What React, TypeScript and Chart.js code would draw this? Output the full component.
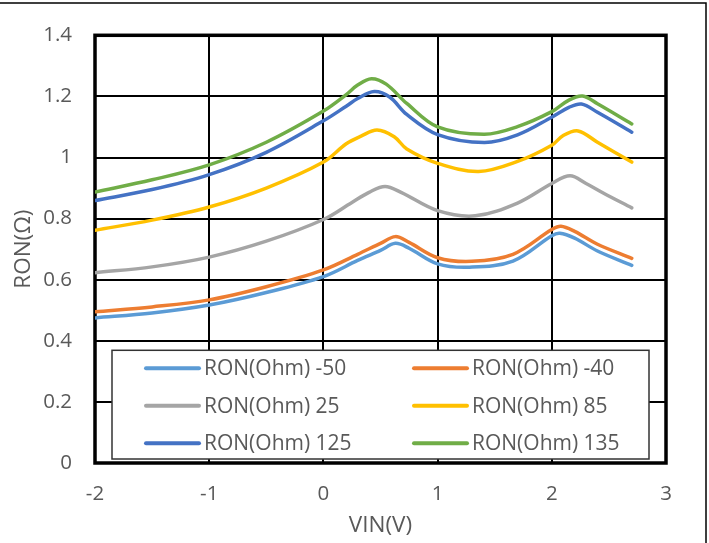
import React, { useEffect, useRef } from "react";
import { Chart, registerables } from "chart.js";

Chart.register(...registerables);

// ---- data ----
const X_TICKS = [-2, -1, 0, 1, 2, 3];
const Y_TICKS = [0, 0.2, 0.4, 0.6, 0.8, 1, 1.2, 1.4];

const SERIES_NAMES = [
  "RON(Ohm) -50",
  "RON(Ohm) -40",
  "RON(Ohm) 25",
  "RON(Ohm) 85",
  "RON(Ohm) 125",
  "RON(Ohm) 135",
];
const SERIES_COLORS = ["#5B9BD5", "#ED7D31", "#A5A5A5", "#FFC000", "#4472C4", "#70AD47"];

const VIN_M50 = [-2, -1.5, -1, -0.5, 0, 0.3, 0.5, 0.63, 0.75, 1, 1.28, 1.66, 2, 2.07, 2.2, 2.4, 2.7];
const RON_M50 = [0.475, 0.491, 0.517, 0.558, 0.61, 0.663, 0.696, 0.719, 0.703, 0.652, 0.641, 0.661, 0.744, 0.752, 0.736, 0.694, 0.647];

const VIN_M40 = [-2, -1.5, -1, -0.5, 0, 0.3, 0.5, 0.63, 0.75, 1, 1.3, 1.66, 2, 2.08, 2.2, 2.4, 2.7];
const RON_M40 = [0.495, 0.511, 0.534, 0.577, 0.632, 0.683, 0.719, 0.741, 0.722, 0.672, 0.66, 0.683, 0.764, 0.775, 0.758, 0.716, 0.67];

const VIN_25 = [-2, -1.5, -1, -0.5, 0, 0.25, 0.4, 0.54, 0.68, 1, 1.33, 1.7, 2, 2.16, 2.3, 2.45, 2.7];
const RON_25 = [0.623, 0.642, 0.674, 0.726, 0.797, 0.853, 0.886, 0.905, 0.886, 0.826, 0.809, 0.851, 0.915, 0.94, 0.915, 0.884, 0.835];

const VIN_85 = [-2, -1.5, -1, -0.5, 0, 0.2, 0.33, 0.47, 0.62, 0.73, 1, 1.36, 1.7, 2, 2.1, 2.23, 2.4, 2.7];
const RON_85 = [0.762, 0.795, 0.838, 0.9, 0.985, 1.045, 1.07, 1.09, 1.068, 1.028, 0.981, 0.954, 0.987, 1.04, 1.072, 1.087, 1.05, 0.985];

const VIN_125 = [-2, -1.5, -1, -0.5, 0, 0.2, 0.3, 0.445, 0.58, 0.73, 1, 1.41, 1.7, 2, 2.15, 2.26, 2.4, 2.7];
const RON_125 = [0.859, 0.895, 0.944, 1.017, 1.12, 1.168, 1.193, 1.216, 1.198, 1.141, 1.075, 1.049, 1.074, 1.132, 1.164, 1.175, 1.148, 1.083];

const VIN_135 = [-2, -1.5, -1, -0.5, 0, 0.2, 0.3, 0.42, 0.55, 0.73, 1, 1.41, 1.7, 2, 2.15, 2.27, 2.4, 2.7];
const RON_135 = [0.887, 0.927, 0.976, 1.05, 1.152, 1.206, 1.237, 1.258, 1.24, 1.177, 1.1, 1.076, 1.101, 1.15, 1.188, 1.201, 1.176, 1.11];

const SERIES_X = [VIN_M50, VIN_M40, VIN_25, VIN_85, VIN_125, VIN_135];
const SERIES_Y = [RON_M50, RON_M40, RON_25, RON_85, RON_125, RON_135];

const FONT_FAMILY = "'Open Sans', 'DejaVu Sans', sans-serif";
const TEXT_COLOR = "#595959";

const framePlugin = {
  id: "framePlugin",
  beforeDatasetsDraw(chart: any) {
    const { ctx, chartArea: a } = chart;
    ctx.save();
    ctx.strokeStyle = "#000";
    ctx.lineWidth = 3.5;
    ctx.strokeRect(a.left, a.top, a.right - a.left, a.bottom - a.top);
    ctx.restore();
  },
  afterDraw(chart: any) {
    const { ctx, chartArea: a } = chart;
    ctx.save();
    // outer image frame (top and right)
    ctx.strokeStyle = "#000";
    ctx.lineWidth = 1.5;
    ctx.beginPath();
    ctx.moveTo(0, 3);
    ctx.lineTo(706, 3);
    ctx.lineTo(706, chart.height);
    ctx.stroke();

    // legend box inside plot area
    const bx = a.left + 17;
    const bw = a.right - 17 - bx;
    const by = a.top + 315;
    const bh = a.bottom - 4 - by;
    ctx.fillStyle = "#fff";
    ctx.fillRect(bx, by, bw, bh);
    ctx.strokeStyle = "#333";
    ctx.lineWidth = 1.5;
    ctx.strokeRect(bx, by, bw, bh);

    ctx.font = `21px ${FONT_FAMILY}`;
    ctx.textBaseline = "middle";
    ctx.textAlign = "left";
    const colX = [bx + 34, bx + 302];
    const rowY = [by + 18, by + 55.5, by + 93];
    SERIES_NAMES.forEach((name, i) => {
      const cx = colX[i % 2];
      const cy = rowY[Math.floor(i / 2)];
      ctx.strokeStyle = SERIES_COLORS[i];
      ctx.lineWidth = 4;
      ctx.lineCap = "round";
      ctx.beginPath();
      ctx.moveTo(cx, cy);
      ctx.lineTo(cx + 53, cy);
      ctx.stroke();
      ctx.fillStyle = TEXT_COLOR;
      ctx.fillText(name, cx + 58, cy + 1);
    });
    ctx.restore();
  },
};

export default function App() {
  const ref = useRef<HTMLCanvasElement | null>(null);

  useEffect(() => {
    if (!ref.current) return;
    const datasets = SERIES_NAMES.map((name, i) => ({
      label: name,
      data: SERIES_X[i].map((x, j) => ({ x, y: SERIES_Y[i][j] })),
      borderColor: SERIES_COLORS[i],
      backgroundColor: SERIES_COLORS[i],
      borderWidth: 3.5,
      pointRadius: 0,
      tension: 0.35,
      borderCapStyle: "round" as const,
      fill: false,
    }));

    const chart = new Chart(ref.current, {
      type: "line",
      data: { datasets },
      plugins: [framePlugin],
      options: {
        animation: false,
        responsive: false,
        devicePixelRatio: 1,
        layout: { padding: { top: 33, right: 43, left: 0, bottom: 0 } },
        plugins: { legend: { display: false }, tooltip: { enabled: false } },
        scales: {
          x: {
            type: "linear",
            min: -2,
            max: 3,
            afterBuildTicks: (s: any) => {
              s.ticks = X_TICKS.map((v) => ({ value: v }));
            },
            afterFit: (s: any) => {
              s.height = 80;
            },
            grid: { color: "#000", lineWidth: 2, drawTicks: false },
            border: { display: false },
            ticks: {
              padding: 19,
              color: TEXT_COLOR,
              font: { family: FONT_FAMILY, size: 20.5 },
              callback: (v: any) => String(v),
            },
            title: {
              display: true,
              text: "VIN(V)",
              color: TEXT_COLOR,
              font: { family: FONT_FAMILY, size: 22.5 },
              padding: { top: 0, bottom: 3.5 },
            },
          },
          y: {
            type: "linear",
            min: 0,
            max: 1.4,
            afterBuildTicks: (s: any) => {
              s.ticks = Y_TICKS.map((v) => ({ value: v }));
            },
            afterFit: (s: any) => {
              s.width = 95;
            },
            grid: { color: "#000", lineWidth: 2, drawTicks: false },
            border: { display: false },
            ticks: {
              padding: 23,
              color: TEXT_COLOR,
              font: { family: FONT_FAMILY, size: 20.5 },
              callback: (v: any) => String(Math.round(v * 10) / 10),
            },
            title: {
              display: true,
              text: "RON(Ω)",
              color: TEXT_COLOR,
              font: { family: FONT_FAMILY, size: 22.5 },
              padding: { top: 10, bottom: 0 },
            },
          },
        },
      },
    });
    return () => chart.destroy();
  }, []);

  return (
    <div style={{ position: "absolute", left: 0, top: 0, width: 709, height: 543, background: "#fff" }}>
      <canvas ref={ref} width={709} height={543} style={{ display: "block" }} />
    </div>
  );
}
